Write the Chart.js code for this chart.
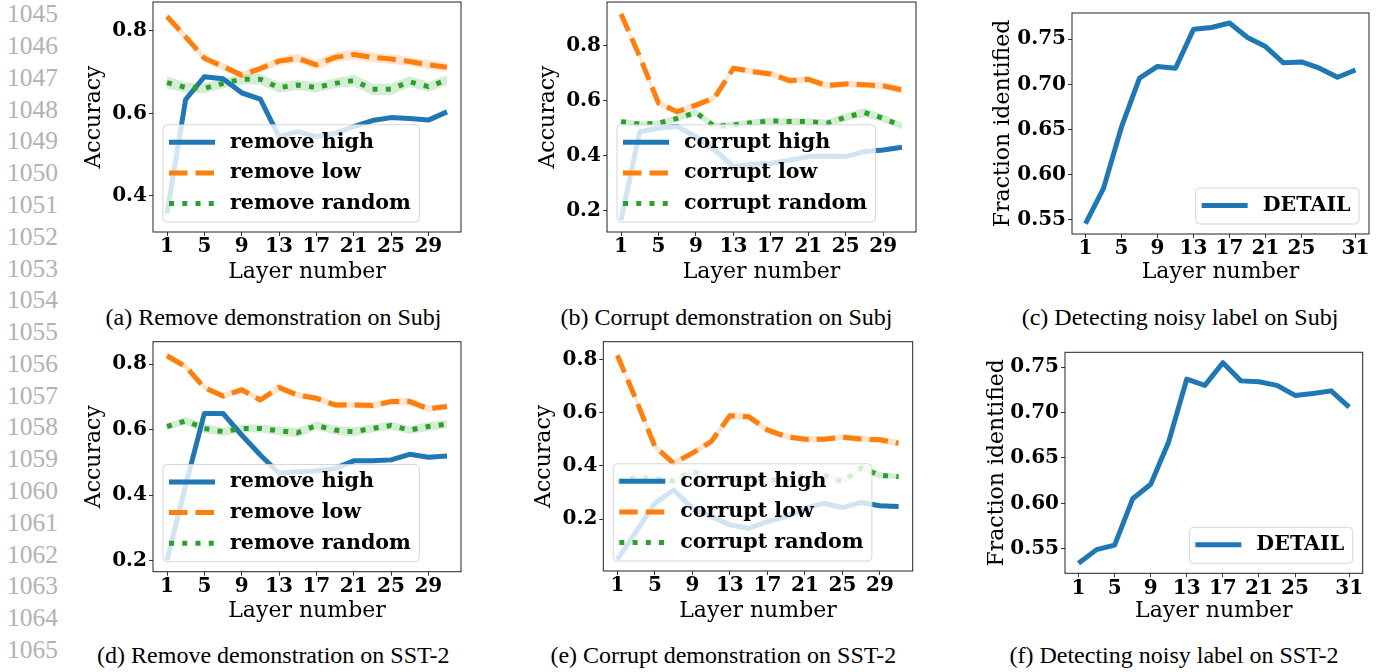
<!DOCTYPE html>
<html>
<head>
<meta charset="utf-8">
<script src="https://cdn.jsdelivr.net/npm/chart.js@4.4.1/dist/chart.umd.min.js"></script>
<style>
  html, body { margin: 0; padding: 0; background: #fff; }
  body { position: relative; width: 1380px; height: 672px; overflow: hidden; }
  canvas { position: absolute; }
  .lineno { position: absolute; left: 7px; font: 25.5px "Liberation Serif", serif; line-height: 1; color: #b2b2b2; }
  .caption { position: absolute; font: 24px "Liberation Serif", serif; line-height: 24px; color: #000;
             white-space: nowrap; transform: translateX(-50%); }
</style>
</head>
<body>
<script>
// layers sampled every other layer
const layers = [1, 3, 5, 7, 9, 11, 13, 15, 17, 19, 21, 23, 25, 27, 29, 31];

const xTicksAcc = [1, 5, 9, 13, 17, 21, 25, 29];
const xTicksDetail = [1, 5, 9, 13, 17, 21, 25, 31];
const yTicksSubjRemove = [0.4, 0.6, 0.8];
const yTicksSubjCorrupt = [0.2, 0.4, 0.6, 0.8];
const yTicksSst2 = [0.2, 0.4, 0.6, 0.8];
const yTicksDetail = [0.55, 0.60, 0.65, 0.70, 0.75];

// Subj - remove
const subjRemoveHigh   = [0.358, 0.634, 0.689, 0.684, 0.650, 0.635, 0.544, 0.556, 0.544, 0.552, 0.568, 0.583, 0.590, 0.588, 0.584, 0.604];
const subjRemoveLow    = [0.835, 0.786, 0.734, 0.714, 0.693, 0.709, 0.727, 0.734, 0.718, 0.736, 0.743, 0.736, 0.732, 0.726, 0.718, 0.712];
const subjRemoveRandom = [0.675, 0.663, 0.661, 0.673, 0.683, 0.683, 0.663, 0.669, 0.663, 0.673, 0.680, 0.659, 0.659, 0.677, 0.665, 0.681];
const subjRemoveHighCI   = [0.020, 0.008, 0.006, 0.006, 0.008, 0.006, 0.006, 0.006, 0.005, 0.005, 0.005, 0.005, 0.005, 0.005, 0.005, 0.005];
const subjRemoveLowCI    = [0.010, 0.010, 0.009, 0.009, 0.008, 0.009, 0.010, 0.011, 0.012, 0.012, 0.012, 0.012, 0.012, 0.011, 0.011, 0.011];
const subjRemoveRandomCI = [0.015, 0.012, 0.012, 0.012, 0.013, 0.013, 0.013, 0.012, 0.012, 0.012, 0.014, 0.014, 0.014, 0.013, 0.012, 0.012];

// Subj - corrupt
const subjCorruptHigh   = [0.167, 0.488, 0.501, 0.507, 0.470, 0.422, 0.361, 0.370, 0.373, 0.385, 0.398, 0.400, 0.398, 0.416, 0.422, 0.432];
const subjCorruptLow    = [0.916, 0.761, 0.592, 0.561, 0.585, 0.612, 0.719, 0.707, 0.698, 0.674, 0.679, 0.656, 0.662, 0.659, 0.655, 0.640];
const subjCorruptRandom = [0.525, 0.516, 0.519, 0.537, 0.558, 0.507, 0.513, 0.521, 0.528, 0.525, 0.525, 0.519, 0.541, 0.558, 0.537, 0.509];
const subjCorruptHighCI   = [0.006, 0.008, 0.008, 0.008, 0.008, 0.008, 0.007, 0.008, 0.008, 0.008, 0.008, 0.008, 0.007, 0.008, 0.008, 0.008];
const subjCorruptLowCI    = [0.006, 0.010, 0.012, 0.012, 0.012, 0.012, 0.010, 0.012, 0.012, 0.012, 0.012, 0.012, 0.012, 0.012, 0.014, 0.014];
const subjCorruptRandomCI = [0.010, 0.010, 0.010, 0.012, 0.012, 0.014, 0.012, 0.012, 0.012, 0.012, 0.012, 0.014, 0.014, 0.016, 0.014, 0.012];

// SST-2 - remove
const sst2RemoveHigh   = [0.202, 0.430, 0.650, 0.650, 0.584, 0.523, 0.467, 0.472, 0.474, 0.482, 0.505, 0.505, 0.508, 0.525, 0.516, 0.520];
const sst2RemoveLow    = [0.826, 0.793, 0.729, 0.703, 0.722, 0.691, 0.729, 0.706, 0.696, 0.676, 0.676, 0.674, 0.686, 0.686, 0.664, 0.671];
const sst2RemoveRandom = [0.610, 0.627, 0.604, 0.594, 0.604, 0.604, 0.597, 0.591, 0.613, 0.599, 0.594, 0.604, 0.613, 0.599, 0.610, 0.617];
const sst2RemoveHighCI   = [0.004, 0.006, 0.008, 0.006, 0.006, 0.006, 0.006, 0.006, 0.006, 0.006, 0.005, 0.005, 0.005, 0.005, 0.005, 0.005];
const sst2RemoveLowCI    = [0.011, 0.010, 0.010, 0.010, 0.010, 0.010, 0.012, 0.010, 0.010, 0.010, 0.010, 0.010, 0.010, 0.012, 0.010, 0.010];
const sst2RemoveRandomCI = [0.010, 0.012, 0.014, 0.012, 0.012, 0.012, 0.014, 0.014, 0.012, 0.014, 0.014, 0.012, 0.012, 0.012, 0.014, 0.012];

// SST-2 - corrupt
const sst2CorruptHigh   = [0.050, 0.154, 0.260, 0.310, 0.241, 0.210, 0.179, 0.166, 0.191, 0.210, 0.241, 0.260, 0.244, 0.263, 0.251, 0.248];
const sst2CorruptLow    = [0.815, 0.648, 0.473, 0.410, 0.448, 0.491, 0.588, 0.585, 0.535, 0.510, 0.500, 0.500, 0.508, 0.501, 0.498, 0.485];
const sst2CorruptRandom = [0.341, 0.358, 0.352, 0.345, 0.380, 0.352, 0.348, 0.360, 0.345, 0.352, 0.362, 0.366, 0.341, 0.393, 0.365, 0.360];
const sst2CorruptHighCI   = [0.005, 0.008, 0.008, 0.008, 0.008, 0.008, 0.010, 0.010, 0.008, 0.008, 0.008, 0.008, 0.008, 0.008, 0.008, 0.008];
const sst2CorruptLowCI    = [0.012, 0.012, 0.012, 0.012, 0.012, 0.012, 0.014, 0.014, 0.012, 0.012, 0.012, 0.012, 0.012, 0.012, 0.012, 0.012];
const sst2CorruptRandomCI = [0.010, 0.010, 0.010, 0.010, 0.012, 0.010, 0.010, 0.010, 0.010, 0.010, 0.010, 0.010, 0.010, 0.012, 0.012, 0.010];

// DETAIL noisy-label detection
const subjDetail = [0.546, 0.585, 0.653, 0.707, 0.720, 0.718, 0.761, 0.763, 0.768, 0.752, 0.742, 0.724, 0.725, 0.718, 0.708, 0.716];
const sst2Detail = [0.534, 0.549, 0.554, 0.605, 0.621, 0.668, 0.737, 0.730, 0.755, 0.735, 0.734, 0.730, 0.719, 0.721, 0.724, 0.706];

const lineNumbers = [];
for (let n = 1045; n <= 1065; n++) lineNumbers.push(n);

// line styles per role (tab10 colours)
const styles = {
  high:   { color: '#1f77b4', band: 'rgba(31,119,180,0.2)', dash: [],        order: 3 },
  low:    { color: '#ff7f0e', band: 'rgba(255,127,14,0.2)', dash: [18.5, 8], order: 2 },
  random: { color: '#2ca02c', band: 'rgba(44,160,44,0.2)',  dash: [5, 8.25], order: 1 },
};

const panels = [
  { box: [153, 2, 461, 232], yTitleX: 94, xTitleY: 271.5, yTitle: 'Accuracy',
    yRange: [0.3127, 0.8703], yTicks: yTicksSubjRemove, yDigits: 1, xTicks: xTicksAcc, corner: 'left',
    series: [['remove high', 'high', subjRemoveHigh, subjRemoveHighCI],
             ['remove low', 'low', subjRemoveLow, subjRemoveLowCI],
             ['remove random', 'random', subjRemoveRandom, subjRemoveRandomCI]],
    caption: '(a) Remove demonstration on Subj', capX: 273.5, capY: 325 },
  { box: [607, 2, 916, 232], yTitleX: 548, xTitleY: 271.5, yTitle: 'Accuracy',
    yRange: [0.1236, 0.96], yTicks: yTicksSubjCorrupt, yDigits: 1, xTicks: xTicksAcc, corner: 'left',
    series: [['corrupt high', 'high', subjCorruptHigh, subjCorruptHighCI],
             ['corrupt low', 'low', subjCorruptLow, subjCorruptLowCI],
             ['corrupt random', 'random', subjCorruptRandom, subjCorruptRandomCI]],
    caption: '(b) Corrupt demonstration on Subj', capX: 726.5, capY: 325 },
  { box: [1072, 13, 1369, 234], yTitleX: 1003, xTitleY: 271.5, yTitle: 'Fraction identified',
    yRange: [0.5345, 0.7791], yTicks: yTicksDetail, yDigits: 2, xTicks: xTicksDetail, corner: 'right',
    series: [['DETAIL', 'high', subjDetail, null]],
    caption: '(c) Detecting noisy label on Subj', capX: 1180, capY: 325 },
  { box: [153, 341.7, 461, 571.7], yTitleX: 94, xTitleY: 610.7, yTitle: 'Accuracy',
    yRange: [0.1664, 0.869], yTicks: yTicksSst2, yDigits: 1, xTicks: xTicksAcc, corner: 'left',
    series: [['remove high', 'high', sst2RemoveHigh, sst2RemoveHighCI],
             ['remove low', 'low', sst2RemoveLow, sst2RemoveLowCI],
             ['remove random', 'random', sst2RemoveRandom, sst2RemoveRandomCI]],
    caption: '(d) Remove demonstration on SST-2', capX: 273.3, capY: 663 },
  { box: [603.3, 341.7, 912.7, 571], yTitleX: 544, xTitleY: 610.7, yTitle: 'Accuracy',
    yRange: [0.0061, 0.866], yTicks: yTicksSst2, yDigits: 1, xTicks: xTicksAcc, corner: 'left',
    series: [['corrupt high', 'high', sst2CorruptHigh, sst2CorruptHighCI],
             ['corrupt low', 'low', sst2CorruptLow, sst2CorruptLowCI],
             ['corrupt random', 'random', sst2CorruptRandom, sst2CorruptRandomCI]],
    caption: '(e) Corrupt demonstration on SST-2', capX: 723.3, capY: 663 },
  { box: [1065, 352.3, 1362.7, 573.3], yTitleX: 997, xTitleY: 610.7, yTitle: 'Fraction identified',
    yRange: [0.5229, 0.7665], yTicks: yTicksDetail, yDigits: 2, xTicks: xTicksDetail, corner: 'right',
    series: [['DETAIL', 'high', sst2Detail, null]],
    caption: '(f) Detecting noisy label on SST-2', capX: 1174, capY: 663 },
];

const tickFont = { family: 'DejaVu Serif', size: 20, weight: 'bold', lineHeight: 1 };
const titleFont = { family: 'DejaVu Serif', size: 22, lineHeight: 1 };

// frame + in-axes legend drawn over the lines, white box at 0.8 alpha
const panelDecor = {
  id: 'panelDecor',
  afterDatasetsDraw(chart, args, opts) {
    const ctx = chart.ctx, a = chart.chartArea;
    ctx.save();
    ctx.strokeStyle = '#222';
    ctx.lineWidth = 1;
    ctx.strokeRect(a.left, a.top, a.right - a.left, a.bottom - a.top);

    const items = chart.data.datasets.filter(d => d.label);
    ctx.font = 'bold 20.6px "DejaVu Serif"';
    const textW = Math.max(...items.map(d => ctx.measureText(d.label).width));
    const w = 6 + 45 + 16 + textW + 8.5;
    const h = 17 + (items.length - 1) * 30.6 + 19;
    const x = opts.corner === 'right' ? a.right - 10 - w : a.left + 10;
    const y = a.bottom - 10 - h;
    ctx.beginPath();
    ctx.roundRect(x, y, w, h, 4);
    ctx.fillStyle = 'rgba(255,255,255,0.8)';
    ctx.fill();
    ctx.strokeStyle = 'rgba(204,204,204,0.8)';
    ctx.stroke();
    items.forEach((d, i) => {
      const cy = y + 17.5 + i * 30.6;
      ctx.beginPath();
      ctx.setLineDash(d.borderDash || []);
      ctx.lineWidth = d.borderWidth;
      ctx.strokeStyle = d.borderColor;
      ctx.lineCap = 'butt';
      ctx.moveTo(x + 6, cy);
      ctx.lineTo(x + 52, cy);
      ctx.stroke();
      ctx.setLineDash([]);
      ctx.fillStyle = '#000';
      ctx.textBaseline = 'middle';
      ctx.textAlign = 'left';
      ctx.fillText(d.label, x + 67, cy);
    });
    ctx.restore();
  }
};

function points(values) {
  return layers.map((l, i) => ({ x: l, y: values[i] }));
}

function buildDatasets(series) {
  const bands = [], lines = [];
  series.forEach(([label, role, values, ci]) => {
    const st = styles[role];
    if (ci) {
      bands.push({ label: '', data: points(values.map((v, i) => v - ci[i])), borderWidth: 0,
                   pointRadius: 0, fill: false, order: 10 });
      bands.push({ label: '', data: points(values.map((v, i) => v + ci[i])), borderWidth: 0,
                   pointRadius: 0, fill: '-1', backgroundColor: st.band, order: 10 });
    }
    lines.push({ label, data: points(values), borderColor: st.color, borderWidth: 5,
                 borderDash: st.dash, borderCapStyle: 'butt', borderJoinStyle: 'round',
                 pointRadius: 0, tension: 0, fill: false, order: st.order });
  });
  return bands.concat(lines);
}

function zeroPad(s) {
  s.paddingLeft = s.paddingRight = s.paddingTop = s.paddingBottom = 0;
}

function makePanel(p) {
  const [l, t, r, b] = p.box;
  const cLeft = Math.round(p.yTitleX - 11);
  const cTop = Math.floor(t) - 6;
  const cRight = Math.ceil(r) + 6;
  const cBottom = Math.round(p.xTitleY + 11);
  const yWidth = l - cLeft;
  const xHeight = cBottom - b;

  const canvas = document.createElement('canvas');
  canvas.width = cRight - cLeft;
  canvas.height = cBottom - cTop;
  canvas.style.left = cLeft + 'px';
  canvas.style.top = cTop + 'px';
  document.body.appendChild(canvas);

  const gridOpts = { display: true, drawOnChartArea: false, drawTicks: true, tickLength: 4,
                     color: '#333', lineWidth: 1 };

  new Chart(canvas, {
    type: 'line',
    data: { datasets: buildDatasets(p.series) },
    options: {
      responsive: false,
      animation: false,
      events: [],
      devicePixelRatio: 1,
      layout: { padding: { left: 0, top: t - cTop, right: cRight - r, bottom: 0 } },
      plugins: { legend: { display: false }, tooltip: { enabled: false }, panelDecor: { corner: p.corner } },
      scales: {
        x: {
          type: 'linear', min: -0.5, max: 32.5, bounds: 'data',
          afterBuildTicks: s => { s.ticks = p.xTicks.map(v => ({ value: v })); },
          afterFit: s => { s.height = xHeight; zeroPad(s); },
          grid: gridOpts,
          border: { display: false },
          ticks: { autoSkip: false, maxRotation: 0, padding: 1, color: '#000', font: tickFont,
                   callback: v => String(v) },
          title: { display: true, text: 'Layer number', color: '#000', font: titleFont, padding: 0 }
        },
        y: {
          type: 'linear', min: p.yRange[0], max: p.yRange[1], bounds: 'data',
          afterBuildTicks: s => { s.ticks = p.yTicks.map(v => ({ value: v })); },
          afterFit: s => { s.width = yWidth; zeroPad(s); },
          grid: gridOpts,
          border: { display: false },
          ticks: { padding: 2, color: '#000', font: tickFont, callback: v => v.toFixed(p.yDigits) },
          title: { display: true, text: p.yTitle, color: '#000', font: titleFont, padding: 0 }
        }
      }
    },
    plugins: [panelDecor]
  });

  const cap = document.createElement('div');
  cap.className = 'caption';
  cap.textContent = p.caption;
  cap.style.left = p.capX + 'px';
  cap.style.top = (p.capY - 20.1) + 'px';
  document.body.appendChild(cap);
}

lineNumbers.forEach((n, i) => {
  const d = document.createElement('div');
  d.className = 'lineno';
  d.textContent = n;
  d.style.top = (22.7 + i * 31.78 - 21.4) + 'px';
  document.body.appendChild(d);
});

panels.forEach(makePanel);
</script>
</body>
</html>
